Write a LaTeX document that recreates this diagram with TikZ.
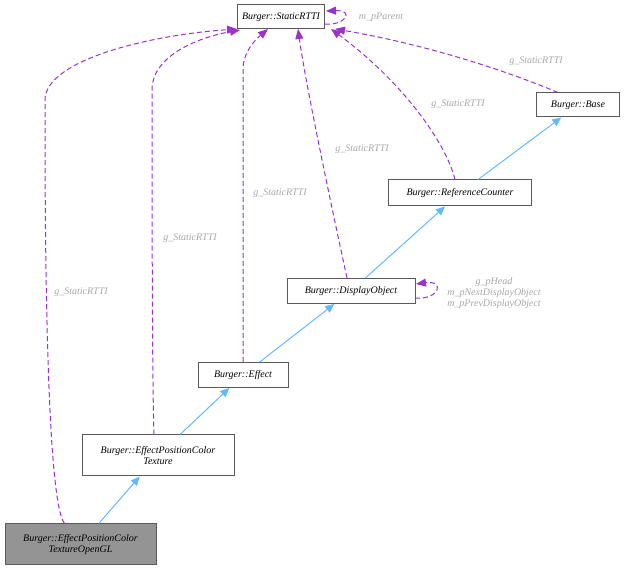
\documentclass[tikz,border=0pt]{standalone}
\usepackage{fontspec}
\setmainfont{Liberation Serif}
\usetikzlibrary{arrows.meta}
\begin{document}
\begin{tikzpicture}[x=1pt,y=-1pt,line width=1pt,
  box/.style={draw=black!65,fill=white,inner sep=2pt,font=\itshape\fontsize{10}{11.5}\selectfont,align=center},
  lbl/.style={text=black!35,font=\itshape\fontsize{10}{11}\selectfont,align=center}]
\useasboundingbox (0,0) rectangle (625,572);
\tikzset{inh/.style={draw={rgb,255:red,99;green,184;blue,255},-{Triangle[length=9pt,width=8pt]}},
 use/.style={draw={rgb,255:red,154;green,50;blue,205},dash pattern=on 5pt off 3pt,-{Triangle[length=10pt,width=8pt]}}}
\node[box,minimum width=87pt,minimum height=24pt] (s) at (281,17) {Burger::StaticRTTI};
\node[box,minimum width=83pt,minimum height=24pt] (b) at (578,105) {Burger::Base};
\node[box,minimum width=143pt,minimum height=26pt] (r) at (460,193) {Burger::ReferenceCounter};
\node[box,minimum width=128pt,minimum height=25pt] (d) at (351,291) {Burger::DisplayObject};
\node[box,minimum width=90pt,minimum height=25pt] (e) at (243,375) {Burger::Effect};
\node[box,minimum width=152pt,minimum height=41pt] (t) at (158,455.5) {Burger::EffectPositionColor\\Texture};
\node[box,minimum width=151pt,minimum height=41pt,fill=black!42] (g) at (80.5,544.5) {Burger::EffectPositionColor\\TextureOpenGL};
\draw[inh] (r) -- (b);
\draw[inh] (d) -- (r);
\draw[inh] (e) -- (d);
\draw[inh] (t) -- (e);
\draw[inh] (g) -- (t);
\draw[use] (g.north west) ++(60,0) .. controls (45,500) and (45,200) .. (45,100) .. controls (45,60) and (150,35) .. (237,29);
\node[lbl] at (81,292) {g\_StaticRTTI};
\draw[use] (t.north) ++(-4,0) .. controls (152,380) and (152,150) .. (152,90) .. controls (152,55) and (200,37) .. (240,30);
\node[lbl] at (190,238) {g\_StaticRTTI};
\draw[use] (e.north) .. controls (243,300) and (243,100) .. (243,70) .. controls (243,52) and (255,40) .. (268,29);
\node[lbl] at (280,193) {g\_StaticRTTI};
\draw[use] (d.north) ++(-4,0) .. controls (330,200) and (305,80) .. (298,29);
\node[lbl] at (362,149) {g\_StaticRTTI};
\draw[use] (r.north) ++(-5,0) .. controls (445,140) and (400,80) .. (331,29);
\node[lbl] at (458,104) {g\_StaticRTTI};
\draw[use] (b.north) ++(-20,0) .. controls (480,60) and (400,40) .. (335,29);
\node[lbl] at (536,61) {g\_StaticRTTI};
\draw[use] (325,24) .. controls (345,26) and (355,10) .. (326,11);
\node[lbl] at (381,17) {m\_pParent};
\draw[use] (415,298) .. controls (440,300) and (445,280) .. (416,284);
\node[lbl] at (494,293) {g\_pHead\\m\_pNextDisplayObject\\m\_pPrevDisplayObject};
\end{tikzpicture}
\end{document}
